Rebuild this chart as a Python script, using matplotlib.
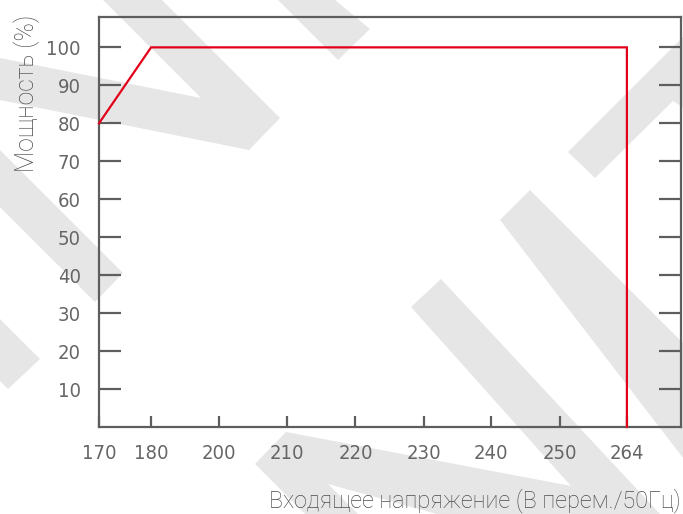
import numpy as np
import matplotlib
matplotlib.use('Agg')
import matplotlib.pyplot as plt
from matplotlib.patches import Polygon

# Данные: входное напряжение (В) и мощность (%)
voltage = [170, 180, 264, 264]
power = [80, 100, 100, 0]

tick_volts = [170, 180, 200, 210, 220, 230, 240, 250, 264]
y_ticks = [10, 20, 30, 40, 50, 60, 70, 80, 90, 100]

# положение меток на оси (шкала неравномерная, как в оригинале)
scale_volts = [170, 180, 200, 210, 220, 230, 240, 250, 264, 274]
scale_pos = [0, 52, 120, 188, 256, 324, 391, 460, 527, 581]

GRAY = '#5e5e5e'
TXT = '#4c4c4c'
RED = '#e2001a'
WM = '#e6e6e6'

label_font = ['Roboto', 'DejaVu Sans']

fig = plt.figure(figsize=(6.83, 5.14), dpi=100)
W, H = 683, 514

# водяной знак (серые полосы на фоне), координаты в пикселях
stripes = [
    [(103, 0), (162, 0), (280, 118), (249, 150), (0, 100), (0, 58), (201, 98)],
    [(278, 0), (335, 0), (370, 29), (338, 60)],
    [(0, 150), (123, 273), (95, 302), (0, 207)],
    [(0, 319), (40, 359), (8, 389), (0, 381)],
    [(568, 152), (690, 30), (690, 112), (673, 101), (595, 178)],
    [(530, 190), (700, 360), (700, 480), (500, 220)],
    [(441, 279), (411, 307), (596, 514), (660, 514)],
    [(255, 464), (286, 432), (640, 499), (640, 570), (328, 484), (414, 570), (361, 570)],
]
for s in stripes:
    pts = [(x / W, 1 - y / H) for x, y in s]
    fig.patches.append(Polygon(pts, closed=True, transform=fig.transFigure,
                               facecolor=WM, edgecolor='none', zorder=-5))

ax = fig.add_axes([99 / W, 1 - 427 / H, 582 / W, 410 / H])
ax.set_facecolor('none')
ax.set_zorder(2)

fwd = lambda v: np.interp(v, scale_volts, scale_pos)
inv = lambda p: np.interp(p, scale_pos, scale_volts)
ax.set_xscale('function', functions=(fwd, inv))

ax.plot(voltage, power, color=RED, lw=1.6, solid_joinstyle='miter', clip_on=False, zorder=3)

ax.set_xlim(170, 274)
ax.set_ylim(0, 108)

ax.set_xticks(tick_volts)
ax.set_xticklabels([str(v) for v in tick_volts])
ax.set_yticks(y_ticks)
ax.set_yticklabels([str(v) for v in y_ticks])

for sp in ax.spines.values():
    sp.set_color(GRAY)
    sp.set_linewidth(1.6)

ax.tick_params(axis='x', direction='in', length=8, width=1.6, color=GRAY,
               pad=12, labelcolor='#666666', labelsize=14.5)
ax.tick_params(axis='y', direction='in', length=16, width=1.6, color=GRAY,
               pad=13, labelcolor='#666666', labelsize=14.5, right=True)
for lab in ax.get_xticklabels() + ax.get_yticklabels():
    lab.set_family('DejaVu Sans')
    lab.set_stretch('condensed')

fig.text(681 / W, 1 - 507 / H, 'Входящее напряжение (В перем./50Гц)',
         ha='right', va='baseline', fontsize=16.8, color=TXT,
         family=label_font, fontweight='light')
fig.text(13 / W, 1 - 15 / H, 'Мощность (%)', rotation=90,
         ha='left', va='top', fontsize=17.8, color=TXT,
         family=label_font, fontweight='light')

fig.savefig('out.png', dpi=100)
